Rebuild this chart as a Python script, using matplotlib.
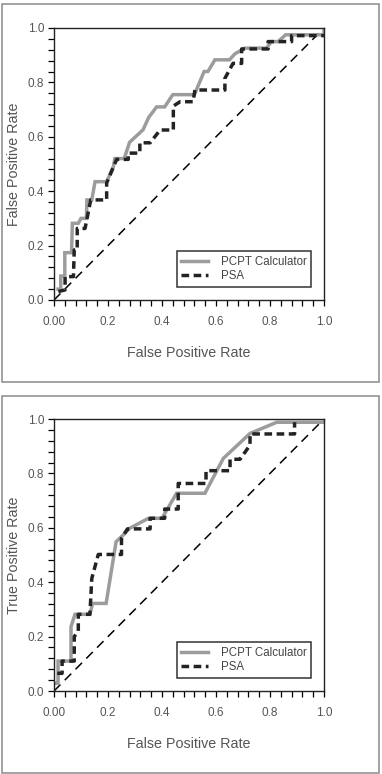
import matplotlib
matplotlib.use("Agg")
import matplotlib.pyplot as plt
from matplotlib.patches import Rectangle
from matplotlib.ticker import MultipleLocator

plt.rcParams['font.family'] = ['Liberation Sans', 'DejaVu Sans']

# top panel: PCPT calculator (solid grey) and PSA (dashed black)
top_pcpt_fpr = [0.015, 0.025, 0.025, 0.04, 0.04, 0.065, 0.068, 0.09, 0.10, 0.12, 0.122, 0.14,
                0.152, 0.195, 0.22, 0.225, 0.26, 0.28, 0.33, 0.35, 0.38, 0.41, 0.44, 0.52,
                0.556, 0.57, 0.596, 0.65, 0.67, 0.707, 0.787, 0.805, 0.83, 0.858, 1.0, 1.0]
top_pcpt_tpr = [0.04, 0.04, 0.088, 0.088, 0.174, 0.174, 0.282, 0.282, 0.30, 0.30, 0.368, 0.368,
                0.435, 0.435, 0.49, 0.52, 0.52, 0.58, 0.626, 0.67, 0.71, 0.71, 0.755, 0.755,
                0.84, 0.84, 0.883, 0.883, 0.905, 0.926, 0.926, 0.95, 0.95, 0.975, 0.975, 0.99]
top_psa_fpr = [0.016, 0.041, 0.041, 0.072, 0.075, 0.086, 0.086, 0.115, 0.136, 0.195, 0.195,
               0.232, 0.275, 0.275, 0.318, 0.318, 0.356, 0.393, 0.442, 0.442, 0.467, 0.515,
               0.522, 0.633, 0.633, 0.663, 0.695, 0.695, 0.793, 0.793, 0.88, 0.88, 1.0]
top_psa_tpr = [0.031, 0.037, 0.086, 0.086, 0.184, 0.184, 0.263, 0.263, 0.368, 0.368, 0.43,
               0.517, 0.517, 0.54, 0.54, 0.578, 0.578, 0.625, 0.625, 0.713, 0.729, 0.729,
               0.772, 0.772, 0.815, 0.87, 0.87, 0.923, 0.923, 0.95, 0.95, 0.972, 0.972]

# bottom panel
bot_pcpt_fpr = [0.007, 0.015, 0.015, 0.063, 0.063, 0.078, 0.133, 0.143, 0.193, 0.23, 0.257,
                0.28, 0.35, 0.40, 0.454, 0.559, 0.627, 0.726, 0.825, 1.0]
bot_pcpt_tpr = [0.028, 0.028, 0.11, 0.11, 0.237, 0.282, 0.282, 0.322, 0.322, 0.549, 0.574,
                0.598, 0.635, 0.635, 0.727, 0.727, 0.855, 0.947, 0.988, 0.988]
bot_psa_fpr = [0.012, 0.03, 0.03, 0.075, 0.075, 0.09, 0.09, 0.133, 0.14, 0.164, 0.164, 0.25,
               0.25, 0.272, 0.356, 0.356, 0.41, 0.41, 0.46, 0.46, 0.563, 0.563, 0.652, 0.652,
               0.689, 0.726, 0.726, 0.891, 0.891]
bot_psa_tpr = [0.065, 0.065, 0.11, 0.11, 0.2, 0.22, 0.282, 0.282, 0.414, 0.502, 0.502, 0.502,
               0.561, 0.596, 0.596, 0.635, 0.635, 0.669, 0.669, 0.763, 0.763, 0.81, 0.81, 0.852,
               0.852, 0.904, 0.945, 0.945, 0.988]

tick_vals = [0.0, 0.2, 0.4, 0.6, 0.8, 1.0]
x_tick_labels = ["0.00", "0.2", "0.4", "0.6", "0.8", "1.0"]
y_tick_labels = ["0.0", "0.2", "0.4", "0.6", "0.8", "1.0"]

GREY = "#9c9c9c"
DARK = "#232323"
TEXT = "#555555"

fig = plt.figure(figsize=(3.82, 7.74), dpi=100)


def panel(rect, fpr1, tpr1, fpr2, tpr2, ylabel):
    ax = fig.add_axes(rect)
    ax.plot([0, 1], [0, 1], color="black", lw=1.1, dashes=(6, 4))
    ax.plot(fpr1, tpr1, color=GREY, lw=2.5, solid_joinstyle="miter",
            label="PCPT Calculator")
    ax.plot(fpr2, tpr2, color=DARK, lw=2.5, dashes=(2.2, 1.3), label="PSA")
    ax.set_xlim(0, 1)
    ax.set_ylim(0, 1)
    ax.set_xticks(tick_vals)
    ax.set_xticklabels(x_tick_labels)
    ax.set_yticks(tick_vals)
    ax.set_yticklabels(y_tick_labels)
    ax.xaxis.set_minor_locator(MultipleLocator(0.04))
    ax.yaxis.set_minor_locator(MultipleLocator(0.04))
    ax.tick_params(which="both", direction="out", length=4.6, width=0.9,
                   color="black", labelcolor=TEXT, labelsize=8.5)
    ax.tick_params(axis="x", which="major", pad=7)
    ax.tick_params(axis="y", which="major", pad=2.5)
    for s in ax.spines.values():
        s.set_linewidth(1.0)
        s.set_color("#222222")
    ax.set_xlabel("False Positive Rate", fontsize=10.3, color=TEXT, labelpad=13)
    ax.set_ylabel(ylabel, fontsize=10.3, color=TEXT, labelpad=5)
    leg = ax.legend(loc="lower right", bbox_to_anchor=(0.952, 0.048),
                    borderaxespad=0, fancybox=False, framealpha=1,
                    fontsize=8.3, handlelength=2.3, handletextpad=1.1,
                    labelspacing=0.2, borderpad=0.4)
    leg.get_frame().set_edgecolor("#333333")
    leg.get_frame().set_linewidth(1.1)
    for t in leg.get_texts():
        t.set_color("#444444")
    return ax


W = 270 / 382
H = 272 / 774
panel([54 / 382, 1 - 300 / 774, W, H], top_pcpt_fpr, top_pcpt_tpr,
      top_psa_fpr, top_psa_tpr, "False Positive Rate")
panel([54 / 382, 1 - 691 / 774, W, H], bot_pcpt_fpr, bot_pcpt_tpr,
      bot_psa_fpr, bot_psa_tpr, "True Positive Rate")

# grey frames around each panel
for top, bottom in [(4, 382), (396, 773)]:
    fig.patches.append(Rectangle((1.5 / 382, 1 - bottom / 774), 377 / 382,
                                 (bottom - top) / 774, transform=fig.transFigure,
                                 fill=False, edgecolor="#8a8a8a", lw=1.1))

fig.savefig("out.png", dpi=100)
